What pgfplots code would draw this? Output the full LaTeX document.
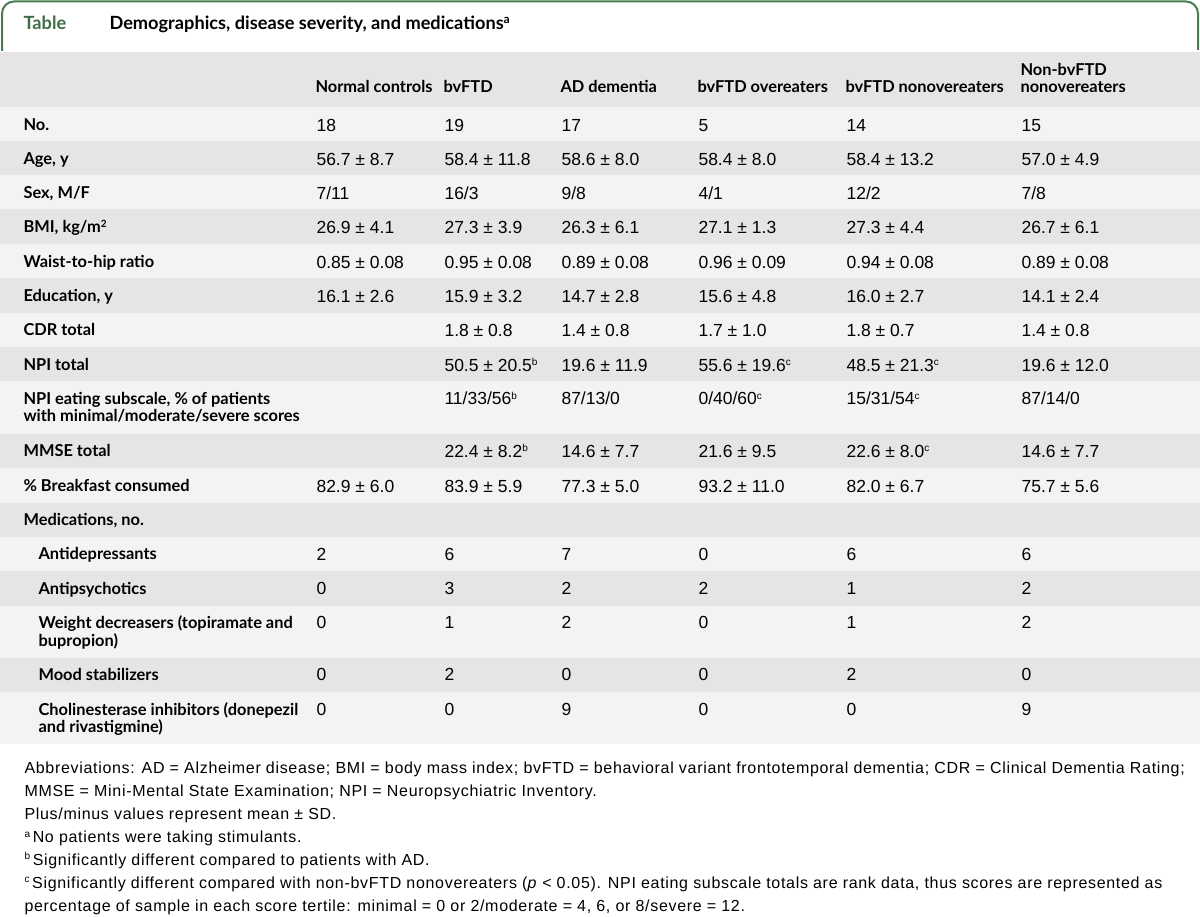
\documentclass[border=0pt]{standalone}
\usepackage{pgfplots}
\pgfplotsset{compat=1.18}
\usepackage{fontspec}
\setmainfont{Liberation Sans}
\newfontfamily\lab{Lato}
\newfontfamily\val{Liberation Sans}
\newfontfamily\fn{Liberation Sans}[LetterSpace=4.3]
\definecolor{tgreen}{HTML}{4A7C52}
\definecolor{ttgreen}{HTML}{3E6E46}
\definecolor{rowdark}{HTML}{E5E5E5}
\definecolor{rowlight}{HTML}{F3F3F3}
\definecolor{txt}{HTML}{1E1E1E}
\newcommand\sups[1]{\raisebox{0.6ex}{\fontsize{10}{10}\selectfont #1}}
\newcommand\lf{\lab\bfseries\fontsize{16.4}{19}\selectfont}
\newcommand\vf{\val\fontsize{17.5}{20}\selectfont}
\newcommand\ff{\fn\fontsize{16}{19}\selectfont}
\newcommand\vals[7]{%
 \node[anchor=base west,font=\vf] at (axis cs:313,#1) {#2};
 \node[anchor=base west,font=\vf] at (axis cs:441,#1) {#3};
 \node[anchor=base west,font=\vf] at (axis cs:558,#1) {#4};
 \node[anchor=base west,font=\vf] at (axis cs:695,#1) {#5};
 \node[anchor=base west,font=\vf] at (axis cs:843,#1) {#6};
 \node[anchor=base west,font=\vf] at (axis cs:1018,#1) {#7};}
\newcommand\rl[3]{\node[anchor=base west,font=\lf] at (axis cs:#1,#2) {#3};}
\newcommand\band[3]{\fill[#3] (axis cs:0,#1) rectangle (axis cs:1200,#2);}
\newcommand\fline[2]{\node[anchor=base west,font=\ff] at (axis cs:21,#1) {#2};}
\begin{document}
\begin{tikzpicture}
\begin{axis}[
  width=1200pt, height=917pt, scale only axis,
  xmin=0, xmax=1200, ymin=0, ymax=917, y dir=reverse,
  hide axis, clip=false,
  every node/.style={inner sep=0pt, outer sep=0pt, text=txt},
]
\fill[white] (axis cs:0,0) rectangle (axis cs:1200,917);
% row bands
\band{52}{107}{rowdark}
\band{107}{141}{rowlight}
\band{141}{175}{rowdark}
\band{175}{209}{rowlight}
\band{209}{244}{rowdark}
\band{244}{278}{rowlight}
\band{278}{313}{rowdark}
\band{313}{347}{rowlight}
\band{347}{381.5}{rowdark}
\band{381.5}{433.5}{rowlight}
\band{433.5}{468}{rowdark}
\band{468}{503}{rowlight}
\band{503}{537}{rowdark}
\band{537}{571}{rowlight}
\band{571}{605.5}{rowdark}
\band{605.5}{657.5}{rowlight}
\band{657.5}{692}{rowdark}
\band{692}{744}{rowlight}
% title tab
\draw[tgreen, line width=2pt, rounded corners=12pt] (axis cs:2,51) -- (axis cs:2,1.5) -- (axis cs:1198,1.5) -- (axis cs:1198,50);
\node[anchor=base west, font=\lab\bfseries\fontsize{18.2}{21}\selectfont, text=ttgreen] at (axis cs:20,30) {Table};
\node[anchor=base west, font=\lab\bfseries\fontsize{18.2}{21}\selectfont] at (axis cs:106,30) {Demographics, disease severity, and medications\raisebox{0.7ex}{\fontsize{12}{12}\selectfont a}};
% header
\rl{312}{92.5}{Normal controls}
\rl{440}{92.5}{bvFTD}
\rl{557}{92.5}{AD dementia}
\rl{694}{92.5}{bvFTD overeaters}
\rl{842}{92.5}{bvFTD nonovereaters}
\rl{1017}{75.5}{Non-bvFTD}
\rl{1017}{92.5}{nonovereaters}
% rows
\rl{20}{130.5}{No.}
\vals{131.5}{18}{19}{17}{5}{14}{15}
\rl{20}{164.5}{Age, y}
\vals{165.5}{56.7 ± 8.7}{58.4 ± 11.8}{58.6 ± 8.0}{58.4 ± 8.0}{58.4 ± 13.2}{57.0 ± 4.9}
\rl{20}{198.5}{Sex, M/F}
\vals{199.5}{7/11}{16/3}{9/8}{4/1}{12/2}{7/8}
\rl{20}{233}{BMI, kg/m\sups{2}}
\vals{234}{26.9 ± 4.1}{27.3 ± 3.9}{26.3 ± 6.1}{27.1 ± 1.3}{27.3 ± 4.4}{26.7 ± 6.1}
\rl{20}{267.5}{Waist-to-hip ratio}
\vals{268.5}{0.85 ± 0.08}{0.95 ± 0.08}{0.89 ± 0.08}{0.96 ± 0.09}{0.94 ± 0.08}{0.89 ± 0.08}
\rl{20}{302}{Education, y}
\vals{303}{16.1 ± 2.6}{15.9 ± 3.2}{14.7 ± 2.8}{15.6 ± 4.8}{16.0 ± 2.7}{14.1 ± 2.4}
\rl{20}{336}{CDR total}
\vals{337}{}{1.8 ± 0.8}{1.4 ± 0.8}{1.7 ± 1.0}{1.8 ± 0.7}{1.4 ± 0.8}
\rl{20}{370.5}{NPI total}
\vals{371.5}{}{50.5 ± 20.5\sups{b}}{19.6 ± 11.9}{55.6 ± 19.6\sups{c}}{48.5 ± 21.3\sups{c}}{19.6 ± 12.0}
\rl{20}{404.3}{NPI eating subscale, \% of patients}
\rl{20}{421.8}{with minimal/moderate/severe scores}
\vals{405}{}{11/33/56\sups{b}}{87/13/0}{0/40/60\sups{c}}{15/31/54\sups{c}}{87/14/0}
\rl{20}{456.5}{MMSE total}
\vals{457.5}{}{22.4 ± 8.2\sups{b}}{14.6 ± 7.7}{21.6 ± 9.5}{22.6 ± 8.0\sups{c}}{14.6 ± 7.7}
\rl{20}{491}{\% Breakfast consumed}
\vals{492}{82.9 ± 6.0}{83.9 ± 5.9}{77.3 ± 5.0}{93.2 ± 11.0}{82.0 ± 6.7}{75.7 ± 5.6}
\rl{20}{525.5}{Medications, no.}
\rl{35}{559.5}{Antidepressants}
\vals{560}{2}{6}{7}{0}{6}{6}
\rl{35}{594}{Antipsychotics}
\vals{594.5}{0}{3}{2}{2}{1}{2}
\rl{35}{628.3}{Weight decreasers (topiramate and}
\rl{35}{646}{bupropion)}
\vals{628.8}{0}{1}{2}{0}{1}{2}
\rl{35}{680}{Mood stabilizers}
\vals{680.5}{0}{2}{0}{0}{2}{0}
\rl{35}{715}{Cholinesterase inhibitors (donepezil}
\rl{35}{732.7}{and rivastigmine)}
\vals{715.5}{0}{0}{9}{0}{0}{9}
% footnotes
\fline{773.3}{Abbreviations: AD = Alzheimer disease; BMI = body mass index; bvFTD = behavioral variant frontotemporal dementia; CDR = Clinical Dementia Rating;}
\fline{796.3}{MMSE = Mini-Mental State Examination; NPI = Neuropsychiatric Inventory.}
\fline{819.2}{Plus/minus values represent mean ± SD.}
\fline{842.1}{\sups{a}\,No patients were taking stimulants.}
\fline{865}{\sups{b}\,Significantly different compared to patients with AD.}
\fline{888}{\sups{c}\,Significantly different compared with non-bvFTD nonovereaters (\textit{p} < 0.05). NPI eating subscale totals are rank data, thus scores are represented as}
\fline{911}{percentage of sample in each score tertile: minimal = 0 or 2/moderate = 4, 6, or 8/severe = 12.}
\end{axis}
\pgfresetboundingbox
\path (current axis.south west) rectangle (current axis.north east);
\end{tikzpicture}
\end{document}
